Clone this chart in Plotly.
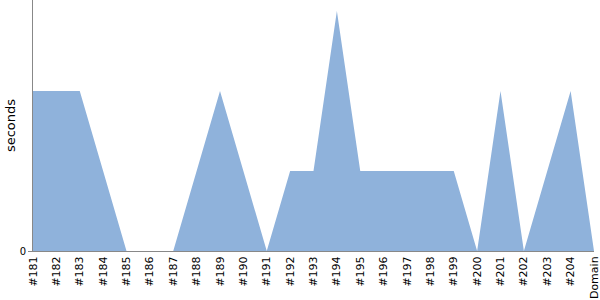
import plotly.graph_objects as go

categories = ["#181", "#182", "#183", "#184", "#185", "#186", "#187", "#188", "#189",
              "#190", "#191", "#192", "#193", "#194", "#195", "#196", "#197", "#198",
              "#199", "#200", "#201", "#202", "#203", "#204", "Domain"]
seconds = [2, 2, 2, 1, 0, 0, 0, 1, 2, 1, 0, 1, 1, 3, 1, 1, 1, 1, 1, 0, 2, 0, 1, 2, 0]

fig = go.Figure(go.Scatter(
    x=categories, y=seconds, mode="lines", fill="tozeroy",
    line=dict(width=0, color="rgb(143,178,219)"),
    fillcolor="rgb(143,178,219)", hoverinfo="skip",
))

fig.update_layout(
    width=600, height=300,
    margin=dict(l=33, r=6, t=0, b=49),
    paper_bgcolor="white", plot_bgcolor="white",
    showlegend=False,
    font=dict(family="DejaVu Sans", size=10, color="#000"),
)
fig.update_xaxes(
    type="category", range=[0, 24], tickangle=-90,
    showgrid=False, zeroline=False,
    showline=True, linecolor="#888", linewidth=1,
    ticks="", tickfont=dict(family="DejaVu Sans", size=11),
)
fig.update_yaxes(
    range=[0, 3.1375], tickvals=[0], ticktext=["0"],
    showgrid=False, zeroline=False,
    showline=True, linecolor="#888", linewidth=1,
    ticks="outside", ticklen=4, tickcolor="#888",
    tickfont=dict(family="DejaVu Sans", size=10),
    title=dict(text="seconds", font=dict(family="DejaVu Sans", size=13), standoff=1),
)

fig.write_html("out.html")
